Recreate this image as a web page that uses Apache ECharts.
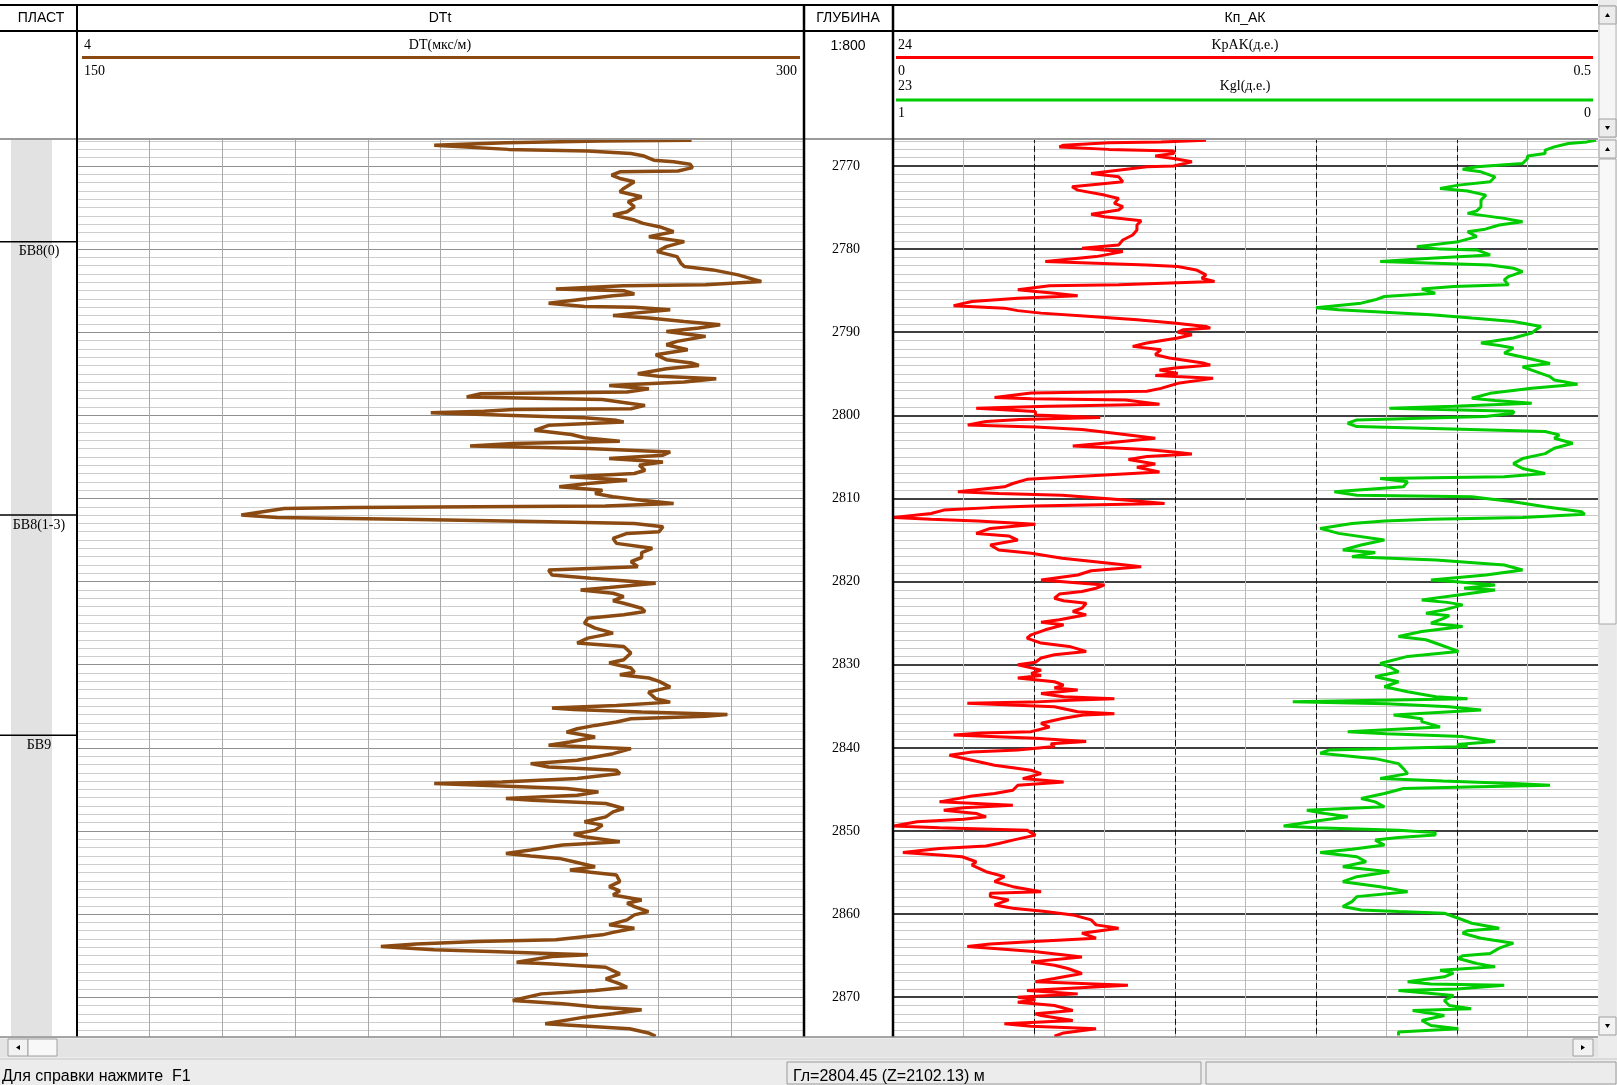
<!DOCTYPE html>
<html><head><meta charset="utf-8">
<script src="https://cdn.jsdelivr.net/npm/echarts@6/dist/echarts.min.js"></script>
<style>html,body{margin:0;padding:0;background:#fff;overflow:hidden}#c{width:1617px;height:1085px}</style>
</head><body><div id="c"></div>
<script>
// ---- data (depth m, value) ----
const depthLabelRange = [2770, 2870];
const formations = [[2779.1, 'БВ8(0)'], [2812.0, 'БВ8(1-3)'], [2838.5, 'БВ9']];
const dtScale = [150, 300];
const kpScale = [0, 0.5];
const kglScale = [1, 0];
const DT = [
[2766.9,276.8],[2767.0,258],[2767.2,238.5],[2767.5,223.7],[2767.7,224],[2768.0,239],[2768.2,255.4],[2768.5,264.3],[2768.8,267],[2769.3,269],[2769.5,273.1],[2769.8,276.5],[2770.2,277],[2770.6,274],[2770.7,262],[2771.1,260.3],[2771.5,262],[2771.9,265],[2772.7,262.8],[2773.1,262],[2773.7,266.5],[2774.3,263.7],[2774.9,265],[2775.5,263.5],[2775.9,260.6],[2776.5,265],[2776.9,266.8],[2777.3,270.1],[2777.9,273.1],[2778.5,268],[2779.1,275.3],[2779.7,271.6],[2780.3,269.7],[2780.9,273.8],[2781.7,274.6],[2782.1,275.3],[2782.5,281.2],[2783.1,286.4],[2783.7,290],[2783.9,291.2],[2784.3,279.7],[2784.4,262.8],[2784.8,248.8],[2785.0,262.8],[2785.4,265],[2785.6,260.6],[2786.0,254.7],[2786.5,247.3],[2786.9,254.7],[2787.0,265],[2787.3,272.4],[2787.7,265],[2788.0,260.6],[2788.3,268],[2788.7,275.3],[2789.1,282.7],[2789.5,278.3],[2789.9,271.6],[2790.5,279.7],[2791.1,273.8],[2791.5,271.6],[2792.1,276],[2792.7,269.4],[2793.3,271.6],[2793.7,276.8],
[2794.0,278.3],[2794.4,271.6],[2795.0,265.7],[2795.3,270],[2795.6,281.9],[2796.0,275.3],[2796.4,259.8],[2796.8,268],[2797.2,263.5],[2797.4,233.3],[2797.8,230.4],[2798.1,258.4],[2798.5,263.5],[2798.8,267.2],[2799.2,264.3],[2799.3,240],[2799.5,234],[2799.7,223],[2800.0,238.5],[2800.3,254.7],[2800.6,261.3],[2800.8,262.8],[2801.2,247.3],[2801.8,244.4],[2802.3,252],[2802.7,254.7],[2803.1,262],[2803.4,240],[2803.7,231.1],[2804.0,255.4],[2804.4,272.4],[2804.8,270.9],[2805.2,259.8],[2805.6,270.9],[2806.0,266],[2806.6,267.2],[2807.0,265],[2807.4,251.7],[2807.8,263.5],[2808.2,255.4],[2808.6,249.5],[2809.0,258.4],[2809.4,256.9],[2809.8,260.6],[2810.2,266.5],[2810.6,273.1],[2810.9,259],[2811.0,232.6],[2811.1,206.8],[2811.2,192.8],[2811.6,188.3],[2812.0,183.9],[2812.3,191.3],[2812.5,217.1],[2812.8,247.3],[2813.0,265],[2813.4,270.9],[2814.0,270.1],[2814.2,263.5],[2814.8,260.6],[2815.4,261.3],[2816.0,268.7],[2816.5,266.5],[2817.1,266.5],[2817.6,264.3],[2818.2,265.7],[2818.6,247.3],[2819.2,248],[2819.6,256],[2820.2,269.4],[2820.7,259.8],
[2821.0,253.9],[2821.4,260.6],[2821.8,262.8],[2822.3,260.6],[2822.6,262.8],[2823.2,266.5],[2823.6,267.2],[2824.0,262.8],[2824.4,255.4],[2825.0,254.7],[2825.6,256.9],[2826.2,260.6],[2826.8,255.4],[2827.4,253.2],[2827.8,262.8],[2828.6,264.3],[2829.4,262.8],[2829.8,259.8],[2830.4,264.3],[2830.9,265],[2831.2,262],[2831.6,268],[2832.0,270.1],[2832.7,272.4],[2833.3,267.9],[2834.1,269.4],[2834.5,272.4],[2834.9,261.3],[2835.2,248],[2835.4,252.5],[2835.7,266.5],[2836.0,284.2],[2836.2,279.7],[2836.5,264.3],[2836.9,261.3],[2837.3,256.9],[2837.7,253.2],[2838.1,251],[2838.7,256.9],[2839.3,251.7],[2839.7,247.3],[2840.1,264.3],[2840.7,260.6],[2841.1,256.9],[2841.5,253.2],[2841.9,243.6],[2842.3,247.3],[2842.7,261.3],[2843.1,262],[2843.7,253.2],[2844.1,237.7],[2844.3,223.7],[2844.6,237.7],[2844.9,251],[2845.3,257.6],[2845.7,253.2],[2846.1,238.5],[2846.3,244],[2846.7,259.1],[2847.3,262.8],[2847.7,260.6],
[2848.3,259.1],[2848.9,254.7],[2849.3,258.4],[2849.9,256.9],[2850.4,252.5],[2850.7,254.7],[2851.3,262],[2851.7,250.2],[2852.3,243.6],[2852.7,238.5],[2853.0,243.6],[2853.3,249.5],[2853.7,252.5],[2854.3,256.9],[2854.7,251.7],[2855.3,261.3],[2856.1,262],[2856.7,259.8],[2857.2,262],[2857.7,260.6],[2858.3,266.5],[2858.7,263.5],[2859.1,265],[2859.7,267.9],[2860.1,265],[2860.7,263.5],[2861.3,259.8],[2861.7,265],[2862.2,260.6],[2862.5,258.4],[2863.1,248.8],[2863.3,232.6],[2863.6,220],[2863.9,212.7],[2864.3,223.7],[2864.5,235.5],[2864.7,245.8],[2864.9,255.4],[2865.1,248],[2865.8,240.7],[2866.0,248],[2866.4,259.1],[2867.2,262],[2867.8,259.1],[2868.4,262],[2868.8,263.5],[2869.2,256.9],[2869.6,245.8],[2870.4,239.9],[2870.8,250.2],[2871.2,257.6],[2871.5,266.5],[2872.0,260.6],[2872.4,254.7],[2873.2,246.6],[2873.8,264],[2874.3,267.9],[2874.7,269.4]
];
const KPAK = [
[2766.9,0.222],[2767.1,0.19],[2767.2,0.153],[2767.5,0.121],[2767.7,0.118],[2768.0,0.153],[2768.2,0.199],[2768.5,0.199],[2768.8,0.186],[2769.1,0.199],[2769.5,0.212],[2770.0,0.199],[2770.1,0.18],[2770.3,0.170],[2770.9,0.1405],[2771.3,0.160],[2771.9,0.163],[2772.5,0.127],[2772.9,0.131],[2773.5,0.150],[2773.9,0.160],[2774.5,0.157],[2774.9,0.163],[2775.3,0.160],[2775.8,0.1405],[2776.1,0.150],[2776.6,0.176],[2777.1,0.173],[2777.7,0.173],[2778.3,0.170],[2778.9,0.163],[2779.5,0.160],[2779.9,0.134],[2780.3,0.163],[2780.9,0.144],[2781.5,0.108],[2781.9,0.180],[2782.1,0.202],[2782.5,0.215],[2783.1,0.222],[2783.5,0.219],[2783.9,0.228],[2784.3,0.16],[2784.4,0.111],[2784.9,0.0885],[2785.3,0.1145],[2785.6,0.131],[2785.9,0.0885],[2786.3,0.056],[2786.8,0.043],[2787.1,0.079],[2787.4,0.0885],[2787.7,0.105],[2788.1,0.1405],[2788.5,0.173],[2788.9,0.199],[2789.3,0.222],[2789.5,0.225],[2789.7,0.206],[2790.0,0.202],[2790.3,0.212],[2790.7,0.202],[2791.3,0.180],[2791.7,0.170],[2792.1,0.190],[2792.7,0.186],[2793.1,0.196],[2793.7,0.22],
[2793.95,0.225],[2794.3,0.2],[2794.55,0.189],[2794.95,0.202],[2795.2,0.186],[2795.55,0.227],[2796.15,0.202],[2796.75,0.19],[2797.1,0.180],[2797.3,0.098],[2797.85,0.072],[2798.0,0.098],[2798.15,0.165],[2798.65,0.189],[2798.9,0.11],[2799.15,0.059],[2799.55,0.101],[2799.95,0.101],[2800.25,0.147],[2800.5,0.09],[2800.75,0.066],[2801.15,0.053],[2801.4,0.101],[2801.7,0.134],[2802.15,0.157],[2802.75,0.186],[2803.3,0.1535],[2803.7,0.1275],[2804.1,0.18],[2804.4,0.199],[2804.65,0.212],[2804.95,0.180],[2805.3,0.167],[2805.85,0.186],[2806.25,0.173],[2806.8,0.189],[2807.2,0.147],[2807.7,0.095],[2808.2,0.085],[2808.6,0.079],[2809.2,0.046],[2809.4,0.075],[2809.6,0.120],[2810.2,0.1666],[2810.6,0.1926],[2810.9,0.1],[2811.1,0.069],[2811.4,0.036],[2811.8,0.027],[2812.3,0.0007],[2812.5,0.027],[2812.7,0.06],[2813.1,0.101],[2813.6,0.069],[2814.2,0.059],[2814.5,0.082],[2815.0,0.0885],[2815.6,0.069],[2816.2,0.075],[2816.6,0.098],[2817.2,0.12],[2817.9,0.160],[2818.2,0.176],[2818.7,0.1405],[2819.2,0.131],[2819.8,0.105],[2820.4,0.15],
[2820.8,0.144],[2821.2,0.134],[2821.5,0.118],[2822.0,0.1145],[2822.3,0.121],[2822.6,0.137],[2823.2,0.134],[2823.6,0.1275],[2824.0,0.137],[2824.6,0.118],[2824.9,0.105],[2825.2,0.121],[2825.8,0.108],[2826.4,0.098],[2826.8,0.095],[2827.4,0.105],[2827.8,0.125],[2828.4,0.137],[2828.8,0.1145],[2829.2,0.105],[2829.7,0.101],[2830.0,0.0885],[2830.65,0.105],[2831.05,0.098],[2831.3,0.105],[2831.6,0.0885],[2832.05,0.1145],[2832.45,0.121],[2832.8,0.1145],[2833.05,0.131],[2833.45,0.105],[2833.85,0.121],[2834.1,0.157],[2834.25,0.13],[2834.5,0.098],[2834.65,0.0527],[2835.05,0.1145],[2835.65,0.131],[2835.9,0.157],[2836.05,0.135],[2836.45,0.121],[2837.05,0.105],[2837.5,0.111],[2838.05,0.098],[2838.2,0.0625],[2838.45,0.043],[2838.6,0.065],[2838.85,0.101],[2839.25,0.137],[2839.5,0.112],[2839.85,0.1145],[2840.25,0.0885],[2840.5,0.056],[2840.9,0.040],[2841.5,0.056],[2842.1,0.072],[2842.7,0.098],[2843.1,0.105],[2843.7,0.092],[2844.1,0.121],[2844.5,0.0885],[2845.1,0.085],[2845.5,0.072],[2845.8,0.056],[2846.5,0.033],[2846.9,0.085],[2847.2,0.05],[2847.5,0.036],[2847.9,0.059],
[2848.3,0.066],[2848.6,0.05],[2848.9,0.017],[2849.4,0.0007],[2849.6,0.033],[2849.9,0.095],[2850.5,0.101],[2851.1,0.085],[2851.5,0.075],[2851.8,0.066],[2852.1,0.033],[2852.6,0.007],[2852.9,0.033],[2853.1,0.049],[2853.7,0.059],[2854.1,0.056],[2854.9,0.066],[2855.5,0.079],[2856.1,0.072],[2856.7,0.085],[2857.3,0.105],[2857.5,0.069],[2857.9,0.069],[2858.3,0.082],[2858.9,0.072],[2859.3,0.085],[2859.7,0.108],[2860.1,0.1275],[2860.7,0.1405],[2861.3,0.144],[2861.7,0.160],[2862.3,0.134],[2862.9,0.144],[2863.3,0.1],[2863.6,0.069],[2863.9,0.0527],[2864.5,0.1],[2865.15,0.134],[2865.75,0.098],[2866.15,0.1145],[2866.55,0.124],[2867.15,0.134],[2867.75,0.1145],[2868.15,0.101],[2868.55,0.1666],[2869.2,0.095],[2869.6,0.131],[2870.0,0.0885],[2870.3,0.101],[2870.6,0.0885],[2871.0,0.1145],[2871.6,0.1275],[2872.0,0.101],[2872.2,0.105],[2872.8,0.1275],[2873.2,0.079],[2873.5,0.098],[2873.8,0.144],[2874.3,0.121],[2874.7,0.1145]
];
const KGL = [
[2766.9,0.003],[2767.1,0.016],[2767.3,0.042],[2767.7,0.062],[2768.1,0.075],[2768.5,0.075],[2768.8,0.1],[2769.1,0.1],[2769.7,0.107],[2770.1,0.172],[2770.4,0.192],[2770.7,0.166],[2771.3,0.146],[2771.9,0.153],[2772.3,0.198],[2772.7,0.224],[2773.0,0.185],[2773.5,0.159],[2774.1,0.166],[2774.9,0.166],[2775.4,0.172],[2775.7,0.185],[2776.3,0.133],[2776.7,0.107],[2777.1,0.140],[2777.6,0.16],[2777.9,0.185],[2778.5,0.172],[2779.1,0.198],[2779.7,0.257],[2780.0,0.224],[2780.1,0.172],[2780.7,0.153],[2781.1,0.237],[2781.5,0.309],[2781.9,0.153],[2782.3,0.120],[2782.7,0.107],[2783.3,0.127],[2783.7,0.133],[2784.3,0.127],[2784.5,0.205],[2784.8,0.250],[2785.3,0.231],[2785.7,0.303],[2786.1,0.316],[2786.5,0.336],[2787.05,0.400],[2787.3,0.368],[2787.6,0.303],[2787.9,0.237],[2788.3,0.179],[2788.7,0.120],[2789.3,0.081],[2789.7,0.088],[2790.1,0.094],[2790.7,0.120],[2791.3,0.166],[2791.6,0.14],[2791.9,0.120],[2792.5,0.133],[2793.1,0.101],[2793.75,0.068],
[2794.15,0.107],[2794.55,0.094],[2794.95,0.081],[2795.35,0.068],[2795.75,0.062],[2796.25,0.029],[2796.75,0.094],[2797.35,0.153],[2797.95,0.179],[2798.2,0.146],[2798.55,0.094],[2798.9,0.205],[2799.15,0.296],[2799.5,0.12],[2799.75,0.120],[2800.15,0.16],[2800.55,0.342],[2800.95,0.355],[2801.35,0.342],[2801.6,0.22],[2801.95,0.075],[2802.35,0.055],[2802.75,0.062],[2803.35,0.036],[2803.95,0.062],[2804.6,0.075],[2805.2,0.107],[2805.8,0.120],[2806.4,0.107],[2807.0,0.075],[2807.4,0.133],[2807.6,0.309],[2808.0,0.270],[2808.6,0.276],[2809.2,0.374],[2809.6,0.342],[2809.8,0.179],[2810.0,0.159],[2810.4,0.120],[2811.0,0.075],[2811.6,0.023],[2811.9,0.019],[2812.3,0.107],[2812.5,0.237],[2812.7,0.303],[2813.0,0.349],[2813.6,0.394],[2814.2,0.368],[2815.0,0.303],[2815.6,0.336],[2816.2,0.362],[2816.5,0.316],[2817.0,0.349],[2817.4,0.23],[2818.0,0.133],[2818.6,0.107],[2819.2,0.159],[2819.8,0.237],[2820.0,0.205],[2820.4,0.146],
[2820.8,0.19],[2821.0,0.146],[2821.6,0.198],[2822.2,0.25],[2822.5,0.214],[2822.8,0.192],[2823.4,0.218],[2823.8,0.244],[2824.1,0.211],[2824.4,0.218],[2825.0,0.237],[2825.4,0.192],[2826.0,0.250],[2826.6,0.283],[2827.0,0.244],[2827.6,0.224],[2828.4,0.198],[2829.0,0.270],[2829.85,0.309],[2830.25,0.296],[2830.85,0.283],[2831.45,0.316],[2832.05,0.283],[2832.65,0.303],[2833.25,0.270],[2833.85,0.230],[2834.1,0.185],[2834.45,0.433],[2834.7,0.3],[2835.05,0.211],[2835.45,0.166],[2836.05,0.290],[2836.5,0.250],[2836.85,0.250],[2837.5,0.224],[2838.05,0.355],[2838.3,0.3],[2838.65,0.192],[2839.25,0.146],[2839.6,0.2],[2839.85,0.185],[2840.1,0.309],[2840.25,0.381],[2840.65,0.394],[2841.3,0.316],[2841.9,0.283],[2842.5,0.276],[2843.1,0.270],[2843.7,0.309],[2844.0,0.22],[2844.3,0.120],[2844.5,0.068],[2844.7,0.185],[2844.9,0.276],[2845.5,0.303],[2846.1,0.336],[2846.5,0.316],[2847.1,0.303],[2847.5,0.413],[2847.9,0.387],
[2848.3,0.355],[2848.9,0.407],[2849.4,0.446],[2849.6,0.4],[2849.9,0.283],[2850.2,0.231],[2850.5,0.231],[2850.8,0.283],[2851.1,0.316],[2851.7,0.303],[2852.2,0.349],[2852.6,0.394],[2853.1,0.342],[2853.7,0.329],[2854.3,0.362],[2854.9,0.296],[2855.5,0.342],[2856.1,0.362],[2856.7,0.309],[2857.3,0.270],[2857.9,0.342],[2858.5,0.349],[2859.1,0.362],[2859.5,0.336],[2859.7,0.283],[2859.9,0.218],[2860.5,0.198],[2861.1,0.179],[2861.7,0.140],[2862.0,0.185],[2862.3,0.192],[2862.9,0.166],[2863.5,0.120],[2864.1,0.140],[2864.75,0.153],[2865.0,0.192],[2865.35,0.198],[2865.95,0.172],[2866.35,0.146],[2866.75,0.224],[2867.1,0.205],[2867.55,0.218],[2868.15,0.270],[2868.4,0.237],[2868.55,0.133],[2869.0,0.2],[2869.2,0.283],[2869.8,0.205],[2870.4,0.218],[2871.0,0.211],[2871.4,0.18],[2871.6,0.263],[2872.2,0.218],[2872.8,0.250],[2873.4,0.237],[2873.8,0.198],[2874.2,0.283],[2874.6,0.283]
];

// ---- layout ----
const PX = 8.312, Y2770 = 166.0, AX_MIN = 2760, AX_MAX = 2880;
const TOP = Y2770 - (2770 - AX_MIN) * PX;
const HGT = (AX_MAX - AX_MIN) * PX;
const SERIF = '"Liberation Serif", "DejaVu Serif", serif';
const SANS = '"Liberation Sans", Arial, sans-serif';
const BROWN = '#8b4a12', RED = '#ff0000', GREEN = '#00cc00';

const G = [];
function R(x,y,w,h,fill,stroke,z){G.push({type:'rect',silent:true,z:z||50,shape:{x:x,y:y,width:w,height:h},style:{fill:fill||'none',stroke:stroke||null,lineWidth:1}});}
function L(x1,y1,x2,y2,c,w,z){G.push({type:'line',silent:true,z:z||60,shape:{x1:x1,y1:y1,x2:x2,y2:y2},style:{stroke:c,lineWidth:w}});}
function T(x,y,t,font,align,z){G.push({type:'text',silent:true,z:z||61,style:{text:t,x:x,y:y,font:font,fill:'#000',align:align||'left',verticalAlign:'middle',textAlign:align||'left',textVerticalAlign:'middle'}});}
function P(pts,z){G.push({type:'polygon',silent:true,z:z||62,shape:{points:pts},style:{fill:'#000'}});}

// header cover and frame
R(0,0,1598,139,'#ffffff',null,50);
L(0,5,1598,5,'#000',2);
L(0,31,1598,31,'#000',2);
L(0,139,1598,139,'#9a9a9a',2);
L(77,5,77,1037,'#000',2);
L(804,5,804,1037,'#000',2.5);
L(893,5,893,1037,'#000',2.5);
const F13S = '14px ' + SANS, F14 = '14px ' + SERIF;
T(41,18,'ПЛАСТ',F13S,'center');
T(440,18,'DTt',F13S,'center');
T(848,18,'ГЛУБИНА',F13S,'center');
T(1245,18,'Кп_АК',F13S,'center');
T(84,45,'4',F14); T(440,45,'DT(мкс/м)',F14,'center');
L(82,57.5,800,57.5,BROWN,3);
T(84,71,String(dtScale[0]),F14); T(797,71,String(dtScale[1]),F14,'right');
T(848,46,'1:800',F13S,'center');
T(898,45,'24',F14); T(1245,45,'KpAK(д.е.)',F14,'center');
L(896,57.5,1593,57.5,RED,3);
T(898,71,String(kpScale[0]),F14); T(1591,71,String(kpScale[1]),F14,'right');
T(898,86,'23',F14); T(1245,86,'Kgl(д.е.)',F14,'center');
L(896,100,1593,100,GREEN,3);
T(898,113,String(kglScale[0]),F14); T(1591,113,String(kglScale[1]),F14,'right');

// formation column band
R(11,140,41,896,'#e2e2e2',null,1);

// right scrollbars
R(1598,0,19,1085,'#ececec',null,50);
R(1599,6,17,131,'#f6f6f6','#b8b8b8',51);
R(1599,6,17,18,'#ececec','#a0a0a0',52); P([[1605,17],[1610,17],[1607.5,13]]);
R(1599,119,17,18,'#ececec','#a0a0a0',52); P([[1605,126],[1610,126],[1607.5,130]]);
R(1599,140,17,896,'#e9e9e9',null,51);
R(1599,140,17,18,'#f2f2f2','#a0a0a0',52); P([[1605,151],[1610,151],[1607.5,147]]);
R(1599,159,17,465,'#f8f8f8','#a8a8a8',52);
R(1599,1017,17,18,'#f2f2f2','#a0a0a0',52); P([[1605,1024],[1610,1024],[1607.5,1028]]);

// bottom scrollbar + status bar
R(0,1037,1598,48,'#ececec',null,50);
L(0,1037,1598,1037,'#8a8a8a',1.5);
R(0,1039,1598,18,'#e4e4e4',null,51);
R(8,1039,20,17,'#f2f2f2','#a0a0a0',52); P([[20,1045],[20,1050],[16,1047.5]]);
R(28,1039,29,17,'#f8f8f8','#a0a0a0',52);
R(1573,1039,20,17,'#f2f2f2','#a0a0a0',52); P([[1581,1045],[1581,1050],[1585,1047.5]]);
L(0,1059,1617,1059,'#c8c8c8',1);
R(787,1062,414,22,null,'#9a9a9a',53);
R(1206,1062,410,22,null,'#9a9a9a',53);
const FST = '16px ' + SANS;
T(2,1077,'Для справки нажмите  F1',FST);
T(793,1077,'Гл=2804.45 (Z=2102.13) м',FST);

const noAx = {axisLine:{show:false},axisTick:{show:false},axisLabel:{show:false}};

const option = {
  animation:false,
  backgroundColor:'#ffffff',
  grid:[
    {left:0,top:TOP,width:77,height:HGT},
    {left:77,top:TOP,width:727,height:HGT},
    {left:893,top:TOP,width:705,height:HGT}
  ],
  xAxis:[
    {gridIndex:0,type:'value',min:0,max:1,show:false},
    Object.assign({gridIndex:1,type:'value',min:dtScale[0],max:dtScale[1],interval:15,position:'bottom',
      splitLine:{show:true,lineStyle:{color:'#a9a9a9',width:1}}},noAx),
    Object.assign({gridIndex:2,type:'value',min:kpScale[0],max:kpScale[1],interval:0.05,position:'bottom',
      splitLine:{show:true,lineStyle:{color:'#b8b8b8',width:1}}},noAx),
    Object.assign({gridIndex:2,type:'value',min:kpScale[0],max:kpScale[1],interval:0.1,position:'top',
      splitLine:{show:true,lineStyle:{color:'#111',width:1,type:[6,3]}}},noAx),
    {gridIndex:2,type:'value',min:0,max:1,inverse:true,show:false,position:'bottom',offset:30}
  ],
  yAxis:[
    {gridIndex:0,type:'value',min:AX_MIN,max:AX_MAX,inverse:true,show:false},
    {gridIndex:1,type:'value',min:AX_MIN,max:AX_MAX,inverse:true,interval:10,position:'right',
      axisLine:{show:false},axisTick:{show:false},
      axisLabel:{show:true,margin:42,align:'center',fontFamily:'"Liberation Serif", serif',fontSize:14,color:'#000',
        formatter:function(v){return (v>=depthLabelRange[0]&&v<=depthLabelRange[1])?String(v):'';}},
      splitLine:{show:true,lineStyle:{color:'#8f8f8f',width:1}},
      minorTick:{show:false,splitNumber:10},
      minorSplitLine:{show:true,lineStyle:{color:'#cdcdcd',width:1}}},
    Object.assign({gridIndex:2,type:'value',min:AX_MIN,max:AX_MAX,inverse:true,interval:10,position:'left',
      splitLine:{show:true,lineStyle:{color:'#000',width:1.5}},
      minorTick:{show:false,splitNumber:10},
      minorSplitLine:{show:true,lineStyle:{color:'#c8c8c8',width:1}}},noAx)
  ],
  graphic:{elements:G},
  series:[
    {type:'custom',xAxisIndex:0,yAxisIndex:0,z:5,silent:true,
      data:formations.map(function(f){return [0,f[0]];}),
      renderItem:function(params,api){
        var y = api.coord([0,api.value(1)])[1];
        var name = formations[params.dataIndex][1];
        return {type:'group',children:[
          {type:'line',shape:{x1:0,y1:y,x2:77,y2:y},style:{stroke:'#000',lineWidth:1.5}},
          {type:'text',style:{text:name,x:39,y:y+3,align:'center',verticalAlign:'top',textAlign:'center',textVerticalAlign:'top',font:'14px '+SERIF,fill:'#000'}}
        ]};
      }},
    {type:'line',name:'DT',xAxisIndex:1,yAxisIndex:1,data:DT.map(function(p){return [p[1],p[0]];}),
      symbol:'none',silent:true,lineStyle:{color:BROWN,width:3.5},z:3},
    {type:'line',name:'KpAK',xAxisIndex:2,yAxisIndex:2,data:KPAK.map(function(p){return [p[1],p[0]];}),
      symbol:'none',silent:true,lineStyle:{color:RED,width:3},z:3},
    {type:'line',name:'Kgl',xAxisIndex:4,yAxisIndex:2,data:KGL.map(function(p){return [p[1],p[0]];}),
      symbol:'none',silent:true,lineStyle:{color:GREEN,width:3},z:3}
  ]
};
const chart = echarts.init(document.getElementById('c'), null, {renderer:'canvas'});
chart.setOption(option);
</script>
</body></html>
